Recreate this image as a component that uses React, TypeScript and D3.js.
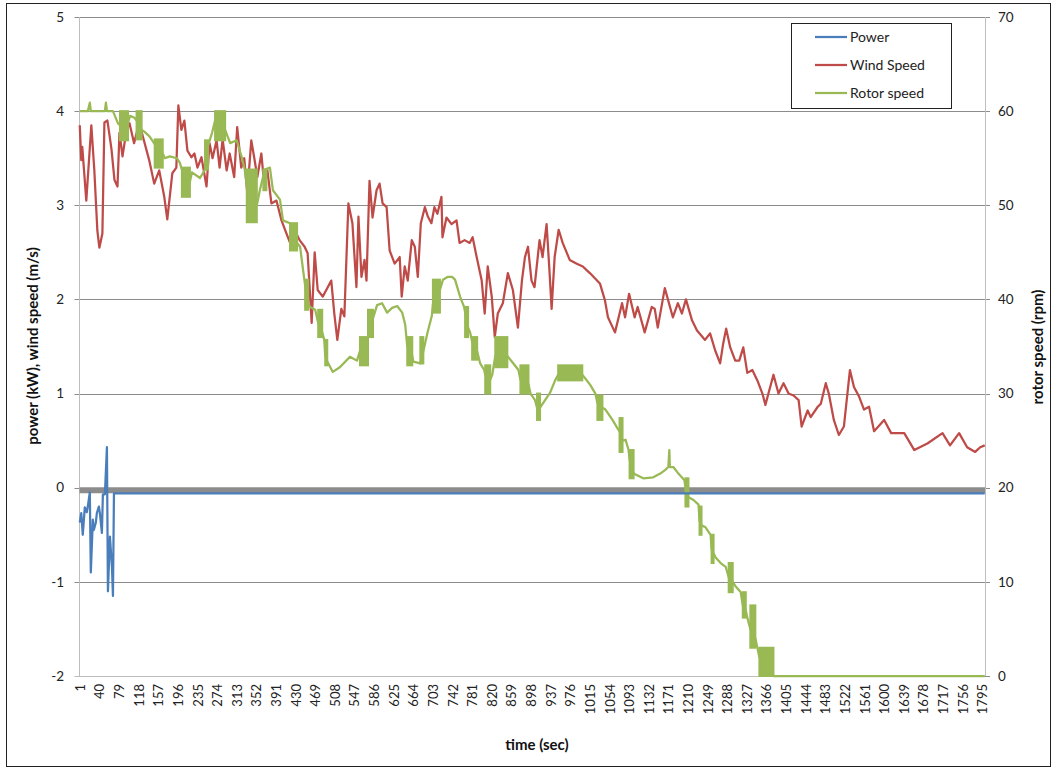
import React from "react";
import * as d3 from "d3";

// ---- data ----
const N_CATEGORIES = 1800;
const xTickLabels: number[] = Array.from({ length: 47 }, (_, i) => 1 + i * 39);
const leftTicks = [-2, -1, 0, 1, 2, 3, 4, 5];
const rightTicks = [0, 10, 20, 30, 40, 50, 60, 70];

// Power (kW): [time, value]
const power: [number, number][] = [
  [1, -0.37], [4, -0.27], [7, -0.5], [11, -0.21], [15, -0.26], [17, -0.2], [21, -0.05], [23, -0.9],
  [27, -0.34], [29, -0.45], [33, -0.37], [35, -0.27], [39, -0.2], [41, -0.27], [45, -0.48], [47, -0.07],
  [51, -0.07], [55, 0.43], [57, -1.1], [61, -0.52], [65, -0.84], [67, -1.15], [69, -0.06], [1800, -0.06],
];

// Wind speed (m/s): [time, value]
const windSpeed: [number, number][] = [
  [1, 3.85], [4, 3.48], [6, 3.62], [14, 3.05], [24, 3.85], [30, 3.37], [36, 2.73], [40, 2.55], [46, 2.7],
  [50, 3.88], [56, 3.9], [64, 3.6], [70, 3.27], [76, 3.2], [80, 3.77], [86, 3.52], [94, 3.8], [100, 3.87],
  [109, 3.66], [119, 3.87], [125, 3.76], [139, 3.48], [149, 3.23], [159, 3.37], [169, 3.09], [175, 2.85],
  [185, 3.34], [193, 3.4], [197, 4.06], [203, 3.8], [209, 3.9], [215, 3.58], [223, 3.51], [229, 3.55],
  [235, 3.4], [243, 3.51], [253, 3.2], [259, 3.66], [265, 3.5], [273, 3.69], [279, 3.4], [285, 3.7],
  [293, 3.37], [299, 3.55], [308, 3.3], [314, 3.83], [322, 3.4], [328, 3.5], [334, 3.13], [342, 3.69],
  [348, 3.5], [354, 3.3], [362, 3.55], [368, 3.2], [374, 3.37], [382, 3.02], [392, 3.05], [402, 2.84],
  [412, 2.7], [422, 2.56], [428, 2.74], [438, 2.63], [448, 2.56], [454, 2.49], [462, 1.75], [468, 2.5],
  [474, 2.1], [484, 2.03], [494, 2.13], [501, 2.2], [507, 1.85], [513, 1.57], [521, 1.9], [527, 1.82],
  [535, 3.02], [543, 2.81], [551, 2.13], [555, 2.88], [561, 2.24], [567, 2.42], [571, 2.2], [577, 3.26],
  [583, 2.87], [591, 3.16], [597, 3.23], [603, 3.02], [611, 2.98], [617, 2.52], [627, 2.38], [637, 2.45],
  [641, 2.03], [647, 2.35], [653, 2.2], [661, 2.63], [667, 2.56], [673, 2.24], [679, 2.81], [687, 2.98],
  [693, 2.88], [700, 2.81], [706, 2.98], [712, 2.91], [720, 3.09], [722, 2.66], [730, 2.87], [740, 2.8],
  [750, 2.84], [756, 2.6], [766, 2.63], [776, 2.6], [782, 2.66], [790, 2.45], [800, 2.2], [806, 1.85],
  [812, 2.35], [820, 2.03], [826, 1.6], [832, 1.85], [842, 1.96], [852, 2.28], [862, 2.1], [872, 1.7],
  [880, 2.2], [886, 2.45], [892, 2.56], [899, 2.2], [905, 2.13], [915, 2.63], [921, 2.45], [929, 2.8],
  [935, 2.28], [939, 1.9], [945, 2.45], [953, 2.74], [961, 2.6], [975, 2.42], [989, 2.38], [1001, 2.35],
  [1015, 2.28], [1035, 2.17], [1045, 1.99], [1051, 1.81], [1065, 1.65], [1079, 1.96], [1085, 1.81],
  [1093, 2.06], [1104, 1.81], [1110, 1.92], [1124, 1.65], [1138, 1.92], [1144, 1.9], [1150, 1.7],
  [1164, 2.12], [1180, 1.81], [1190, 1.96], [1198, 1.85], [1206, 2.0], [1218, 1.78], [1228, 1.67],
  [1244, 1.57], [1254, 1.64], [1264, 1.46], [1274, 1.32], [1280, 1.53], [1286, 1.69], [1294, 1.49],
  [1304, 1.35], [1312, 1.35], [1320, 1.49], [1328, 1.22], [1338, 1.25], [1348, 1.14], [1358, 1.0],
  [1364, 0.88], [1370, 1.0], [1380, 1.2], [1390, 1.0], [1400, 1.11], [1410, 1.0], [1420, 0.98],
  [1430, 0.93], [1436, 0.65], [1448, 0.82], [1454, 0.75], [1468, 0.86], [1474, 0.89], [1484, 1.11],
  [1490, 1.0], [1500, 0.72], [1510, 0.56], [1520, 0.65], [1532, 1.25], [1540, 1.07], [1550, 0.97],
  [1560, 0.83], [1570, 0.86], [1580, 0.6], [1600, 0.72], [1614, 0.58], [1640, 0.58], [1660, 0.4],
  [1686, 0.47], [1716, 0.58], [1731, 0.45], [1749, 0.58], [1765, 0.43], [1781, 0.38], [1791, 0.43],
  [1800, 0.45],
];

// Rotor speed (rpm): [time, value]
const rotorSpeed: [number, number][] = [
  [1, 60], [17, 60], [21, 60.9], [23, 60], [51, 60], [53, 60.9], [55, 60], [67, 60], [77, 58.7], [81, 58.5],
  [97, 58.8], [101, 59.5], [110, 59.3], [114, 59], [124, 58], [130, 57.8], [140, 57.3], [150, 56.5],
  [166, 55.5], [170, 55], [180, 55.2], [194, 55], [200, 54.5], [204, 53.8], [220, 52.5], [224, 53.5],
  [240, 52.9], [250, 53.8], [254, 56], [264, 57.7], [270, 59], [290, 58], [300, 56.6], [313, 56.9],
  [323, 55.1], [329, 53.8], [333, 52], [353, 50], [359, 51.6], [369, 53.8], [379, 54], [385, 51.6],
  [399, 50.6], [405, 48.4], [419, 48.1], [433, 46], [439, 45.6], [445, 43.1], [449, 41.5], [455, 39.5],
  [459, 39.2], [469, 38.9], [475, 37.5], [483, 36.5], [487, 35.7], [489, 34], [493, 33.4], [504, 32.3],
  [518, 32.8], [538, 33.9], [552, 33.5], [558, 34.5], [574, 36], [584, 38], [592, 39.4], [602, 39.6],
  [612, 38.6], [622, 39.1], [632, 39.3], [642, 38.6], [648, 37.3], [652, 35], [662, 34], [664, 33.4],
  [678, 33.2], [684, 34.5], [692, 36.4], [701, 38.3], [703, 39.5], [717, 41], [723, 42.1], [733, 42.4],
  [741, 42.4], [747, 42.1], [757, 40.3], [765, 39.2], [773, 37], [777, 36.5], [781, 35.5], [791, 34.5],
  [797, 33.2], [805, 32.5], [807, 32], [817, 31.5], [821, 32], [827, 34], [851, 34], [857, 33.6],
  [863, 33.2], [873, 32.5], [877, 31.5], [893, 31], [897, 30], [906, 29.3], [910, 28.5], [916, 28.5],
  [926, 29.3], [936, 30.1], [946, 31.4], [952, 32], [1000, 32], [1006, 31.6], [1016, 30.9], [1026, 30],
  [1030, 29], [1040, 28.5], [1046, 28.3], [1060, 27.2], [1070, 26.3], [1074, 26], [1080, 25], [1086, 25.1],
  [1092, 24], [1094, 23], [1102, 21.5], [1121, 21], [1141, 21.1], [1155, 21.5], [1165, 21.9], [1171, 22.2],
  [1173, 24], [1174, 22.2], [1181, 22.2], [1191, 21.5], [1203, 20.8], [1205, 20], [1211, 19], [1221, 18.7],
  [1231, 18.2], [1233, 16.5], [1237, 16], [1245, 15.8], [1255, 15], [1257, 13.5], [1261, 13], [1265, 12.6],
  [1275, 12], [1285, 11.6], [1291, 10.5], [1299, 10], [1305, 9.5], [1315, 8.9], [1319, 7.5], [1325, 7],
  [1328, 6.2], [1334, 5], [1344, 4], [1348, 3], [1352, 2], [1380, 0], [1800, 0],
];

// Rotor speed rapid oscillation bands: [tStart, tEnd, low rpm, high rpm]
const rotorOscillation: [number, number, number, number][] = [
  [81, 97, 56.9, 60], [114, 124, 57, 60], [150, 166, 54, 57], [204, 220, 50.9, 54], [250, 256, 53.8, 56.9],
  [270, 290, 56.9, 60], [333, 353, 48.2, 53.8], [366, 372, 51.6, 53.8], [419, 433, 45.2, 48.1],
  [449, 455, 38.9, 42.1], [475, 483, 36, 38.9], [489, 493, 33, 35.7], [558, 574, 33, 36], [574, 584, 36, 38.9],
  [652, 662, 33, 36], [678, 684, 33.2, 36], [703, 717, 38.6, 42.1], [767, 773, 36, 39.2], [781, 791, 33.6, 36],
  [807, 817, 30, 33], [827, 851, 32.8, 36], [877, 893, 30, 33], [910, 916, 27.2, 30], [952, 1000, 31.4, 33],
  [1030, 1040, 27.2, 29.8], [1074, 1080, 23.8, 27.4], [1094, 1102, 21, 24], [1205, 1211, 18, 21],
  [1233, 1237, 15, 18], [1257, 1261, 12, 15], [1291, 1299, 8.9, 12], [1319, 1325, 6.2, 8.9],
  [1334, 1344, 3, 7.5], [1352, 1380, 0, 3],
];

const seriesNames = ["Power", "Wind Speed", "Rotor speed"];
const seriesColors = ["#4a7ebb", "#be4b48", "#98b954"];

const FONT = "Lato, 'Open Sans', sans-serif";

export default function App() {
  const W = 1058, H = 769;
  const left = 79.5, right = 985, top = 17, bottom = 676;
  const x = d3.scaleLinear().domain([0.5, N_CATEGORIES + 0.5]).range([left, right]);
  const yL = d3.scaleLinear().domain([-2, 5]).range([bottom, top]);
  const yR = d3.scaleLinear().domain([0, 70]).range([bottom, top]);

  const lineL = d3.line<[number, number]>().x(d => x(d[0])).y(d => yL(d[1]));
  const lineR = d3.line<[number, number]>().x(d => x(d[0])).y(d => yR(d[1]));

  const legendRows = seriesNames.map((n, i) => ({ n, c: seriesColors[i], y: 37 + i * 28 }));

  return (
    <div style={{ position: "absolute", left: 0, top: 0 }}>
      <svg width={W} height={H} style={{ display: "block", fontFamily: FONT }}>
        <rect x={0} y={0} width={W} height={H} fill="#fff" />
        <rect x={6.5} y={3.5} width={1044} height={763} fill="none" stroke="#222" strokeWidth={1} />
        {/* gridlines */}
        {leftTicks.map(t => (
          <line key={"g" + t} x1={left - 5} x2={right} y1={Math.round(yL(t)) + 0.5} y2={Math.round(yL(t)) + 0.5}
            stroke={t === -2 ? "#bdbdbd" : "#8c8c8c"} strokeWidth={1} />
        ))}
        {rightTicks.map(t => (
          <line key={"rt" + t} x1={right} x2={right + 5} y1={Math.round(yR(t)) + 0.5} y2={Math.round(yR(t)) + 0.5}
            stroke="#8c8c8c" strokeWidth={1} />
        ))}
        {/* axis lines */}
        <line x1={left} x2={left} y1={top} y2={bottom} stroke="#bdbdbd" strokeWidth={1} />
        <line x1={right + 0.5} x2={right + 0.5} y1={top} y2={bottom} stroke="#bdbdbd" strokeWidth={1} />
        {/* zero axis band */}
        <line x1={left} x2={right} y1={yL(0) + 2.5} y2={yL(0) + 2.5} stroke="#8c8c8c" strokeWidth={6} />
        {/* left tick labels */}
        {leftTicks.map(t => (
          <text key={"l" + t} x={64} y={yL(t)} dy="0.35em" textAnchor="end" fontSize={13.5} fill="#222">{t}</text>
        ))}
        {rightTicks.map(t => (
          <text key={"r" + t} x={998} y={yR(t)} dy="0.35em" textAnchor="start" fontSize={13.5} fill="#222">{t}</text>
        ))}
        {/* x tick labels */}
        {xTickLabels.map(t => (
          <text key={"x" + t} transform={`translate(${x(t) + 0.5},684) rotate(-90)`} dy="0.35em"
            textAnchor="end" fontSize={13} fill="#222">{t}</text>
        ))}
        {/* series */}
        <path d={lineL(windSpeed) || ""} fill="none" stroke={seriesColors[1]} strokeWidth={2.25} strokeLinejoin="round" />
        <path d={lineR(rotorSpeed) || ""} fill="none" stroke={seriesColors[2]} strokeWidth={2.25} strokeLinejoin="round" />
        {rotorOscillation.map((b, i) => (
          <rect key={"b" + i} x={x(b[0])} y={yR(b[3])} width={x(b[1]) - x(b[0])} height={yR(b[2]) - yR(b[3])}
            fill={seriesColors[2]} stroke={seriesColors[2]} strokeWidth={2} />
        ))}
        <path d={lineL(power) || ""} fill="none" stroke={seriesColors[0]} strokeWidth={2.25} strokeLinejoin="round" />
        {/* axis titles */}
        <text transform={`translate(38,346) rotate(-90)`} textAnchor="middle" fontSize={15}
          fontWeight="bold" fill="#111">power (kW), wind speed (m/s)</text>
        <text x={537} y={750} textAnchor="middle" fontSize={15} fontWeight="bold" fill="#111">time (sec)</text>
        <text transform={`translate(1043,347) rotate(-90)`} textAnchor="middle" fontSize={15}
          fontWeight="bold" fill="#111">rotor speed (rpm)</text>
        {/* legend */}
        <rect x={791.5} y={23.5} width={160} height={85} fill="#fff" stroke="#222" strokeWidth={1} />
        {legendRows.map(r => (
          <g key={r.n}>
            <line x1={815} x2={847} y1={r.y} y2={r.y} stroke={r.c} strokeWidth={2.25} />
            <text x={850} y={r.y} dy="0.35em" fontSize={14} fill="#222">{r.n}</text>
          </g>
        ))}
      </svg>
    </div>
  );
}
